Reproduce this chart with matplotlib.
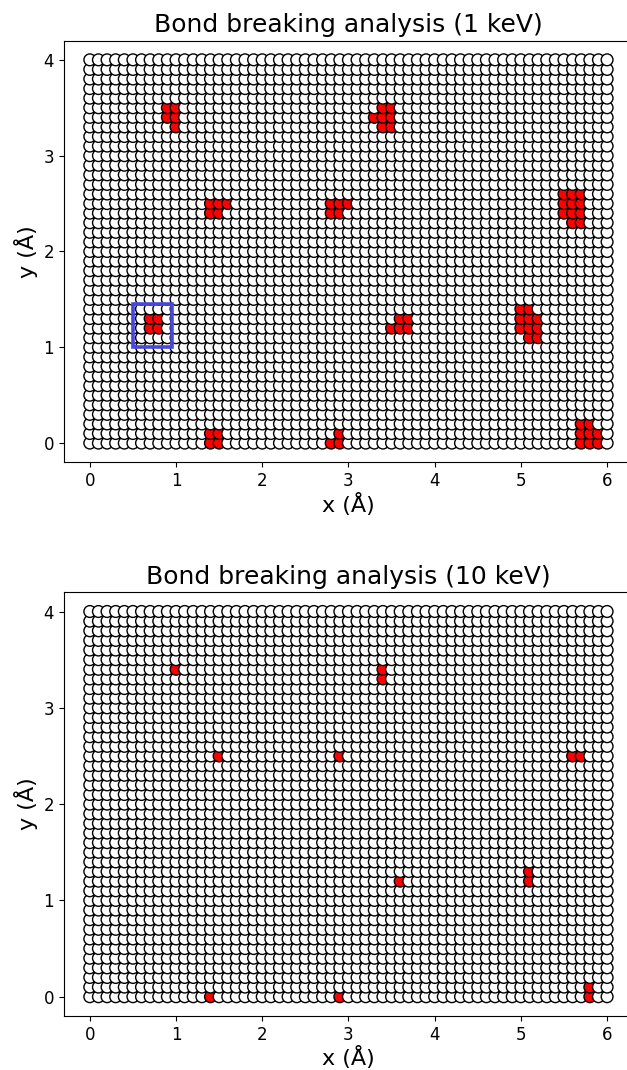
import numpy as np
import matplotlib
matplotlib.use('Agg')
import matplotlib.pyplot as plt
from matplotlib.patches import Rectangle
from matplotlib.ticker import MultipleLocator


# lattice of atom positions (0.1 A spacing)
x_sites = np.round(np.arange(0, 6.01, 0.1), 1)
y_sites = np.round(np.arange(0, 4.01, 0.1), 1)

# broken bond sites, 1 keV
broken_1kev_x = [0.9, 1.0, 0.9, 1.0, 1.0,
                 3.4, 3.5, 3.3, 3.4, 3.5, 3.4, 3.5,
                 1.4, 1.5, 1.6, 1.4, 1.5,
                 2.8, 2.9, 3.0, 2.8, 2.9,
                 5.5, 5.6, 5.7, 5.5, 5.6, 5.7, 5.5, 5.6, 5.7, 5.6, 5.7,
                 0.7, 0.8, 0.7, 0.8,
                 3.6, 3.7, 3.5, 3.6, 3.7,
                 5.0, 5.1, 5.0, 5.1, 5.2, 5.0, 5.1, 5.2, 5.1, 5.2,
                 1.4, 1.5, 1.4, 1.5,
                 2.9, 2.8, 2.9,
                 5.7, 5.8, 5.7, 5.8, 5.9, 5.7, 5.8, 5.9]
broken_1kev_y = [3.5, 3.5, 3.4, 3.4, 3.3,
                 3.5, 3.5, 3.4, 3.4, 3.4, 3.3, 3.3,
                 2.5, 2.5, 2.5, 2.4, 2.4,
                 2.5, 2.5, 2.5, 2.4, 2.4,
                 2.6, 2.6, 2.6, 2.5, 2.5, 2.5, 2.4, 2.4, 2.4, 2.3, 2.3,
                 1.3, 1.3, 1.2, 1.2,
                 1.3, 1.3, 1.2, 1.2, 1.2,
                 1.4, 1.4, 1.3, 1.3, 1.3, 1.2, 1.2, 1.2, 1.1, 1.1,
                 0.1, 0.1, 0.0, 0.0,
                 0.1, 0.0, 0.0,
                 0.2, 0.2, 0.1, 0.1, 0.1, 0.0, 0.0, 0.0]

# broken bond sites, 10 keV
broken_10kev_x = [1.0, 3.4, 3.4, 1.5, 2.9, 5.6, 5.7, 3.6, 5.1, 5.1, 1.4, 2.9, 5.8, 5.8]
broken_10kev_y = [3.4, 3.4, 3.3, 2.5, 2.5, 2.5, 2.5, 1.2, 1.3, 1.2, 0.0, 0.0, 0.1, 0.0]

# highlighted region in the 1 keV panel
box_xy = (0.5, 1.0)
box_w = 0.45
box_h = 0.45

titles = ['Bond breaking analysis (1 keV)', 'Bond breaking analysis (10 keV)']


# white/red colours for every lattice site
def site_colors(bx, by):
    broken = set(zip(np.round(bx, 1), np.round(by, 1)))
    X, Y = np.meshgrid(x_sites, y_sites)
    cols = ['red' if (x, y) in broken else 'white'
            for x, y in zip(np.round(X.ravel(), 1), np.round(Y.ravel(), 1))]
    return X.ravel(), Y.ravel(), cols


fig = plt.figure(figsize=(6.27, 10.7), dpi=100)
ax1 = fig.add_axes([0.102, 0.568, 0.9075, 0.394])
ax2 = fig.add_axes([0.102, 0.0505, 0.9075, 0.396])

for ax, bx, by, title in zip([ax1, ax2], [broken_1kev_x, broken_10kev_x],
                             [broken_1kev_y, broken_10kev_y], titles):
    X, Y, cols = site_colors(bx, by)
    ax.scatter(X, Y, s=72, c=cols, edgecolors='black', linewidths=1.0)
    ax.set_xlim(-0.3, 6.3)
    ax.set_ylim(-0.2, 4.2)
    ax.yaxis.set_major_locator(MultipleLocator(1))
    ax.set_title(title, fontsize=18)
    ax.set_xlabel('x (Å)', fontsize=16, labelpad=2)
    ax.set_ylabel('y (Å)', fontsize=16)
    ax.tick_params(labelsize=12)

# blue box around one defect
ax1.add_patch(Rectangle(box_xy, box_w, box_h, fill=False,
                        edgecolor='#4848d8', linewidth=2.6, zorder=3))

fig.savefig('out.png', dpi=100)
